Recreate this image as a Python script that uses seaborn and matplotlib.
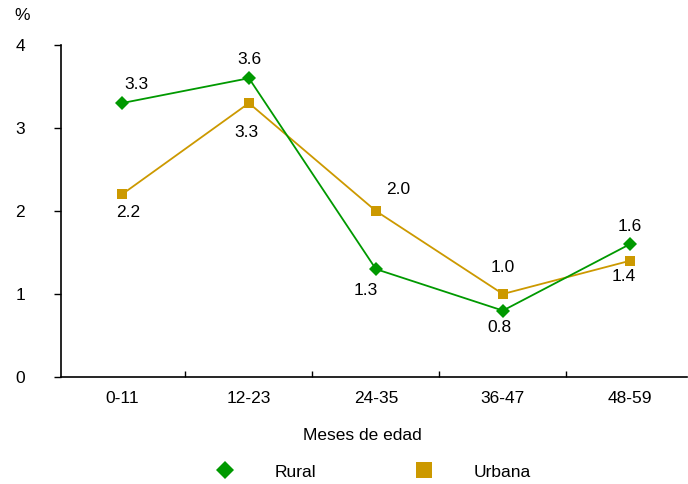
import matplotlib
matplotlib.use("Agg")
import matplotlib.pyplot as plt
import seaborn as sns
import pandas as pd
from matplotlib.lines import Line2D

categories = ["0-11", "12-23", "24-35", "36-47", "48-59"]
rural = [3.3, 3.6, 1.3, 0.8, 1.6]
urbana = [2.2, 3.3, 2.0, 1.0, 1.4]
series_names = ["Rural", "Urbana"]
yticks = [0, 1, 2, 3, 4]

GREEN = "#009900"
GOLD = "#CC9900"

sns.set_style("white")
plt.rcParams["font.family"] = ["Liberation Sans", "DejaVu Sans"]
plt.rcParams["font.size"] = 12.5
plt.rcParams["text.color"] = "black"
plt.rcParams["xtick.color"] = "black"
plt.rcParams["ytick.color"] = "black"

df = pd.DataFrame({
    "pos": list(range(len(categories))) * 2,
    "valor": rural + urbana,
    "area": [series_names[0]] * len(rural) + [series_names[1]] * len(urbana),
})

fig = plt.figure(figsize=(6.88, 4.84), dpi=100)
ax = fig.add_axes([61 / 688, 1 - 377 / 484, 626 / 688, 332 / 484])

sns.lineplot(data=df, x="pos", y="valor", hue="area", style="area",
             palette={"Rural": GREEN, "Urbana": GOLD},
             markers={"Rural": "D", "Urbana": "s"}, dashes=False,
             linewidth=1.3, markersize=7, markeredgewidth=0,
             legend=False, ax=ax, hue_order=["Urbana", "Rural"])

ax.set_xlim(-0.48, 4.45)
ax.set_ylim(0, 4)
ax.set_xticks(range(len(categories)))
ax.set_xticklabels(categories)
ax.set_xticks([0.5, 1.5, 2.5, 3.5], minor=True)
ax.tick_params(axis="x", which="major", length=0, pad=10, labelsize=12.5)
ax.tick_params(axis="x", which="minor", length=4, direction="in", width=1, color="black", bottom=True)
ax.set_yticks(yticks)
ax.set_yticklabels([str(v) for v in yticks])
ax.tick_params(axis="y", length=5, width=1, direction="out", color="black", pad=21, labelsize=12.5, left=True)
ax.set_xlabel("")
ax.set_ylabel("")
for s in ["top", "right"]:
    ax.spines[s].set_visible(False)
for s in ["left", "bottom"]:
    ax.spines[s].set_color("black")
    ax.spines[s].set_linewidth(1.2)

# data labels (offsets in pixels)
rural_off = [(14, 19), (0, 19), (-10, -21), (-3, -17), (0, 18)]
urb_off = [(6, -18), (-3, -29), (22, 22), (0, 26), (-6, -16)]
for i, (v, o) in enumerate(zip(rural, rural_off)):
    ax.annotate(f"{v:.1f}", (i, v), xytext=o, textcoords="offset pixels",
                ha="center", va="center", fontsize=12.5)
for i, (v, o) in enumerate(zip(urbana, urb_off)):
    ax.annotate(f"{v:.1f}", (i, v), xytext=o, textcoords="offset pixels",
                ha="center", va="center", fontsize=12.5)

fig.text(22 / 688, 1 - 16 / 484, "%", ha="center", va="center", fontsize=12.5)
fig.text(362 / 688, 1 - 436 / 484, "Meses de edad", ha="center", va="center", fontsize=12.5)

handles = [
    Line2D([], [], linestyle="none", marker="D", color=GREEN, markersize=9, markeredgewidth=0),
    Line2D([], [], linestyle="none", marker="s", color=GOLD, markersize=12, markeredgewidth=0),
]
fig.legend(handles, series_names, loc="center", bbox_to_anchor=(373.5 / 688, 1 - 472 / 484),
           ncol=2, frameon=False, handlelength=1, handletextpad=2.35, columnspacing=5.7,
           borderpad=0, fontsize=12.5)

fig.savefig("out.png", dpi=100)
